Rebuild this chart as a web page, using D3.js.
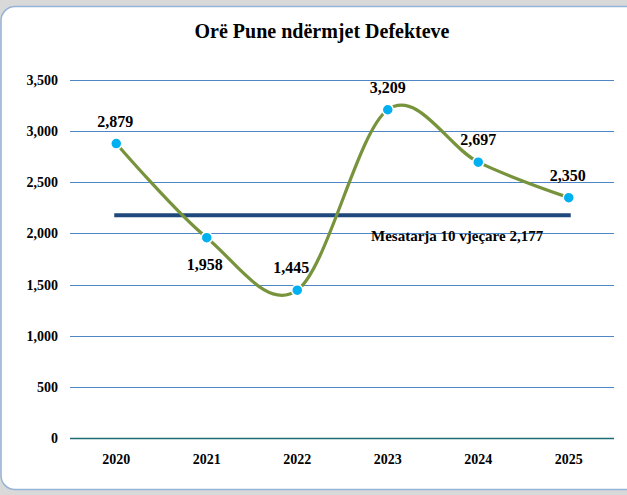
<!DOCTYPE html>
<html>
<head>
<meta charset="utf-8">
<script src="https://cdn.jsdelivr.net/npm/d3@7"></script>
<style>
  body { margin: 0; background: #d9d9d9; }
  svg { display: block; }
  text { font-family: "Liberation Serif", "DejaVu Serif", serif; fill: #000; }
</style>
</head>
<body>
<svg id="chart" width="627" height="495"></svg>
<script>
// data
var years = ["2020", "2021", "2022", "2023", "2024", "2025"];
var hours = [2879, 1958, 1445, 3209, 2697, 2350];
var yTicks = [0, 500, 1000, 1500, 2000, 2500, 3000, 3500];
var average = 2177;
var averageLabel = "Mesatarja 10 vjeçare 2,177";
var title = "Orë Pune ndërmjet Defekteve";
// label above (-1) or below (+1) the dot, and small x nudge
var labelSide = [-1, 1, -1, -1, -1, -1];
var labelNudge = [-1, -2, -6, 0, 0, -1];

var svg = d3.select("#chart");

// panel with rounded corners
svg.append("rect")
    .attr("x", 1)
    .attr("y", 6.5)
    .attr("width", 660)
    .attr("height", 483)
    .attr("rx", 14)
    .attr("fill", "#fff")
    .attr("stroke", "#95b3d7")
    .attr("stroke-width", 1.5);

var x = d3.scaleBand()
    .domain(years)
    .range([71, 614]);

var y = d3.scaleLinear()
    .domain([0, 3500])
    .range([438, 80]);

function cx(d, i) { return x(years[i]) + x.bandwidth() / 2; }

// title
svg.append("text")
    .attr("x", 322)
    .attr("y", 38)
    .attr("text-anchor", "middle")
    .attr("font-size", "20px")
    .attr("font-weight", "bold")
    .text(title);

// grid lines
svg.append("g")
    .selectAll("line")
    .data(yTicks.filter(function(d){ return d > 0; }))
    .enter()
    .append("line")
    .attr("x1", 70)
    .attr("x2", 614)
    .attr("y1", function(d){ return Math.round(y(d)) + 0.5; })
    .attr("y2", function(d){ return Math.round(y(d)) + 0.5; })
    .attr("stroke", "#4f86c6")
    .attr("stroke-width", 1);

// y axis labels
var yAxis = d3.axisLeft(y)
    .tickValues(yTicks)
    .tickSize(0)
    .tickPadding(12)
    .tickFormat(d3.format(","));
svg.append("g")
    .attr("transform", "translate(70,0)")
    .call(yAxis)
    .call(function(g){ g.select(".domain").remove(); })
    .selectAll("text")
    .attr("font-family", "Liberation Serif, serif")
    .attr("font-size", "14px")
    .attr("font-weight", "bold")
    .attr("fill", "#000");

// x axis
var xAxis = d3.axisBottom(x)
    .tickSize(0)
    .tickPadding(16);
svg.append("g")
    .attr("transform", "translate(0," + (Math.round(y(0)) + 0.5) + ")")
    .call(xAxis)
    .call(function(g){
        g.select(".domain")
         .attr("d", "M70,0H614")
         .attr("stroke", "#1f6b75")
         .attr("stroke-width", 1.5);
    })
    .selectAll("text")
    .attr("font-family", "Liberation Serif, serif")
    .attr("font-size", "14px")
    .attr("font-weight", "bold")
    .attr("fill", "#000");

// average line
svg.append("line")
    .attr("x1", cx(null, 0) - 2)
    .attr("x2", cx(null, years.length - 1) + 2)
    .attr("y1", y(average))
    .attr("y2", y(average))
    .attr("stroke", "#1f497d")
    .attr("stroke-width", 4);

svg.append("text")
    .attr("x", 371)
    .attr("y", y(average) + 26)
    .attr("font-size", "15px")
    .attr("font-weight", "bold")
    .text(averageLabel);

// smoothed series (uniform catmull-rom, like the spreadsheet smoothing)
var line = d3.line()
    .x(function(d, i){ return cx(d, i); })
    .y(function(d){ return y(d); })
    .curve(d3.curveCatmullRom.alpha(0));

svg.append("path")
    .datum(hours)
    .attr("d", line)
    .attr("fill", "none")
    .attr("stroke", "#77933c")
    .attr("stroke-width", 3.2);

// markers
svg.append("g")
    .selectAll("circle")
    .data(hours)
    .enter()
    .append("circle")
    .attr("cx", function(d, i){ return cx(d, i); })
    .attr("cy", function(d){ return y(d); })
    .attr("r", 5.5)
    .attr("fill", "#00b0f0")
    .attr("stroke", "#fff")
    .attr("stroke-width", 1.5);

// data labels
svg.append("g")
    .selectAll("text")
    .data(hours)
    .enter()
    .append("text")
    .attr("x", function(d, i){ return cx(d, i) + labelNudge[i]; })
    .attr("y", function(d, i){ return labelSide[i] < 0 ? y(d) - 17 : y(d) + 32; })
    .attr("text-anchor", "middle")
    .attr("font-size", "16px")
    .attr("font-weight", "bold")
    .text(function(d){ return d3.format(",")(d); });
</script>
</body>
</html>
